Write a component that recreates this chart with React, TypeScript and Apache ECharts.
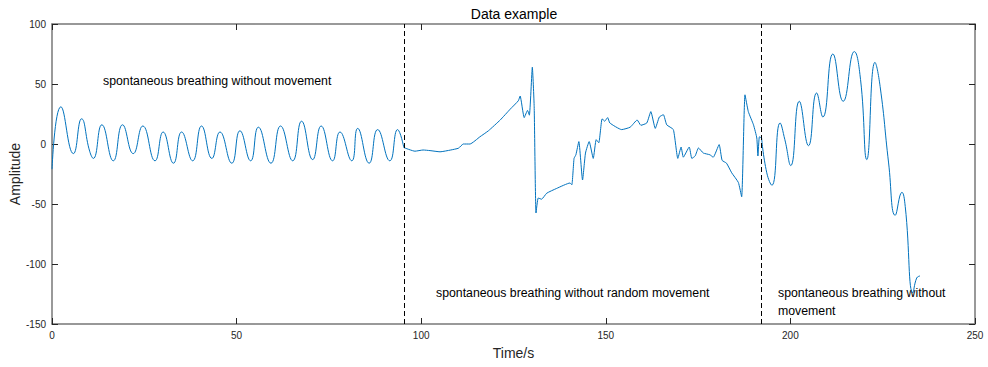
import React, { useEffect, useRef } from "react";
import * as echarts from "echarts";

// Segment 1: spontaneous breathing without movement (peaks / troughs)
const seg1T = [0, 2.4, 5.8, 8.0, 10.2, 11.2, 13.5, 16.6, 19.1, 22.0, 24.6, 27.9, 30.1, 32.9, 35.1, 38.1, 40.5, 43.3, 45.5, 48.7, 50.9, 53.8, 55.9, 59.3, 61.9, 65.2, 67.6, 70.6, 72.9, 76.0, 78.0, 81.2, 82.8, 85.9, 88.2, 91.5, 93.6, 95.3];
const seg1Y = [-21, 31, -8, 21, -6, -12, 16, -14, 16, -8, 15, -14, 10, -16, 10, -14, 15, -12, 10, -16, 11, -14, 14, -16, 15, -14, 19, -13, 15, -14, 10, -14, 13, -16, 12, -14, 12, -3];

// Segment 2: spontaneous breathing with random movement
const seg2T = [95.3, 98.3, 100.5, 102.4, 105.1, 108.0, 110.1, 111.4, 113.2, 115.9, 118.2, 121.4, 124.1, 126.3, 126.8, 127.9, 128.8, 129.3, 130.1, 130.6, 131.1, 131.7, 132.6, 134.0, 136.7, 140.3, 140.8, 141.4, 141.9, 142.7, 143.7, 144.5, 145.5, 146.6, 147.4, 148.1, 149.0, 149.7, 150.5, 151.1, 154.3, 156.6, 158.5, 159.5, 161.1, 162.2, 163.4, 164.5, 165.6, 166.5, 168.3, 169.5, 170.4, 171.0, 172.6, 173.3, 174.2, 175.1, 176.4, 178.2, 179.1, 180.7, 181.5, 182.7, 184.1, 185.9, 186.8, 187.7, 188.6, 190.0, 190.9, 191.2, 191.6, 192.2];
const seg2Y = [-3, -6, -5, -5.5, -6.5, -5, -3.5, 0, 0, 6, 11, 20, 29, 36, 40, 22, 28, 24, 64, 31, -57.5, -45, -46, -41, -37, -32.5, -34, -12, -9, 2, -30, -7.5, 2, -12, 3.6, 1, 21, 19, 22, 17.5, 12, 14, 20, 15.6, 17.5, 27, 13, 22.5, 24.4, 16, 12, -12, -2.5, -11, -2.5, -12, -10, -3.3, -7.5, -9, -11, -0.5, -13.6, -16, -24, -32, -44, 41, 27, 16, 5, -10, 6, 5];

// Segment 3: spontaneous breathing without movement
const seg3T = [192.2, 193.6, 195.0, 197.2, 198.5, 200.1, 202.4, 204.9, 207.1, 208.8, 211.5, 214.3, 217.3, 219.0, 220.7, 222.9, 224.3, 226.6, 228.4, 230.2, 231.1, 233.2, 234.2, 235.1];
const seg3Y = [5, -24, -34.4, 17.5, 3.6, -18, 35.6, -1.4, 42.5, 22.5, 75, 35.6, 77, 53.6, -13, 68, 48, -15.8, -59.4, -40.3, -52, -124, -111.7, -110];

const dividers = [95.5, 192.0];
const xTicks = { min: 0, max: 250, interval: 50 };
const yTicks = { min: -150, max: 100, interval: 50 };

const zip = (t: number[], y: number[]) => t.map((v, i) => [v, y[i]]);

export default function App() {
  const ref = useRef<HTMLDivElement>(null);
  useEffect(() => {
    if (!ref.current) return;
    const chart = echarts.init(ref.current, undefined, { renderer: "svg" });
    const axisColor = "#777777";
    const textColor = "#262626";
    const font = "'Liberation Sans', Arial, Helvetica, sans-serif";
    const lineColor = "#0072BD";
    const baseX = {
      type: "value" as const,
      min: xTicks.min,
      max: xTicks.max,
      interval: xTicks.interval,
      splitLine: { show: false },
      axisLine: { show: true, onZero: false, lineStyle: { color: axisColor, width: 1.5 } },
      axisTick: { show: true, inside: true, length: 6, lineStyle: { color: textColor, width: 1 } },
    };
    const baseY = {
      type: "value" as const,
      min: yTicks.min,
      max: yTicks.max,
      interval: yTicks.interval,
      splitLine: { show: false },
      axisLine: { show: true, onZero: false, lineStyle: { color: axisColor, width: 1.5 } },
      axisTick: { show: true, inside: true, length: 6, lineStyle: { color: textColor, width: 1 } },
    };
    const lineSeries = (data: number[][], smooth: number | boolean) => ({
      type: "line" as const,
      data,
      showSymbol: false,
      smooth,
      lineStyle: { color: lineColor, width: 1 },
      itemStyle: { color: lineColor },
      xAxisIndex: 0,
      yAxisIndex: 0,
      silent: true,
    });
    chart.setOption({
      animation: false,
      grid: { left: 52, right: 13, top: 24, bottom: 43, containLabel: false, outerBoundsMode: "none" },
      xAxis: [
        {
          ...baseX,
          position: "bottom",
          name: "Time/s",
          nameLocation: "middle",
          nameGap: 22,
          nameMoveOverlap: false,
          nameTextStyle: { fontSize: 14, color: textColor, fontFamily: font },
          axisLabel: { fontSize: 10, color: textColor, fontFamily: font, margin: 6 },
        },
        { ...baseX, position: "top", axisLabel: { show: false } },
      ],
      yAxis: [
        {
          ...baseY,
          position: "left",
          name: "Amplitude",
          nameLocation: "middle",
          nameGap: 30,
          nameMoveOverlap: false,
          nameTextStyle: { fontSize: 14, color: textColor, fontFamily: font },
          axisLabel: { fontSize: 10, color: textColor, fontFamily: font, margin: 6 },
        },
        { ...baseY, position: "right", axisLabel: { show: false } },
      ],
      series: [
        lineSeries(zip(seg1T, seg1Y), 0.5),
        {
          ...lineSeries(zip(seg2T, seg2Y), 0.15),
          markLine: {
            silent: true,
            symbol: ["none", "none"],
            label: { show: false },
            lineStyle: { color: "#000000", type: [5, 3], width: 1 },
            data: dividers.map((d) => ({ xAxis: d })),
          },
        },
        lineSeries(zip(seg3T, seg3Y), 0.5),
      ],
      graphic: [
        { type: "text", x: 514, y: 14, style: { text: "Data example", fontSize: 14, fill: "#000", fontFamily: font, textAlign: "center", textVerticalAlign: "middle" } },
        { type: "text", x: 103, y: 81, style: { text: "spontaneous breathing without movement", fontSize: 12.3, fill: "#000", fontFamily: font, textVerticalAlign: "middle" } },
        { type: "text", x: 436, y: 293, style: { text: "spontaneous breathing without random movement", fontSize: 12.3, fill: "#000", fontFamily: font, textVerticalAlign: "middle" } },
        { type: "text", x: 778, y: 293, style: { text: "spontaneous breathing without", fontSize: 12.3, fill: "#000", fontFamily: font, textVerticalAlign: "middle" } },
        { type: "text", x: 778, y: 311, style: { text: "movement", fontSize: 12.3, fill: "#000", fontFamily: font, textVerticalAlign: "middle" } },
      ],
    });
    return () => chart.dispose();
  }, []);
  return <div ref={ref} style={{ position: "fixed", left: 0, top: 0, width: 988, height: 367, background: "#fff" }} />;
}
